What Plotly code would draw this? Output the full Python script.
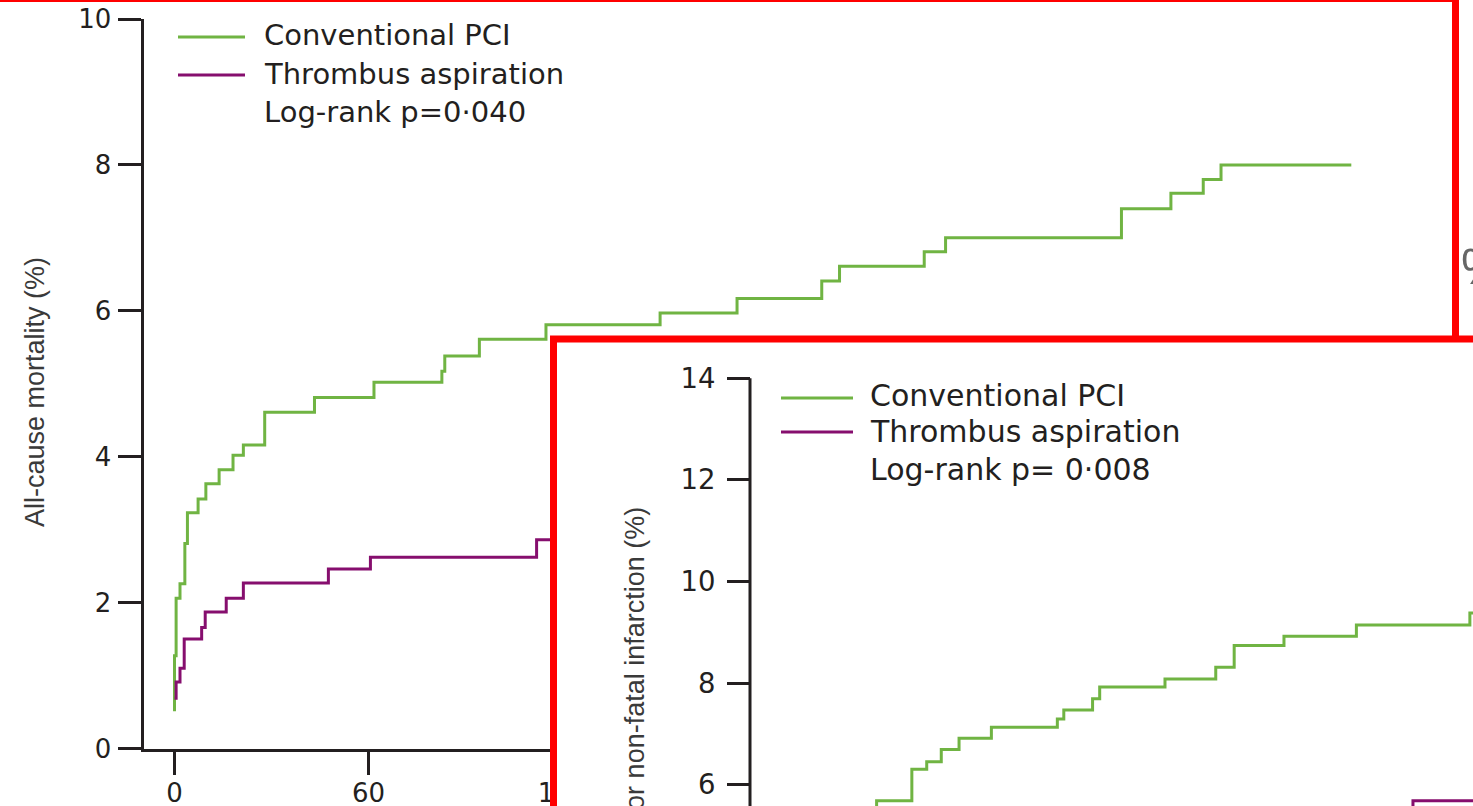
import plotly.graph_objects as go

FIG_W, FIG_H = 1473, 806

GREEN = "#70b443"
PURPLE = "#860e6e"
INK = "#231f20"
RED = "#ff0000"

# ---- Panel A: all-cause mortality (%) against days since randomisation ----
mort_days_conv = [0, 0, 0.5, 1.7, 3.2, 4.0, 7.3, 9.7, 13.8, 18.1, 21.3, 27.9, 43.3,
                  61.7, 82.7, 83.6, 94.3, 114.9, 150.2, 174.0, 200.2, 205.7, 231.9,
                  238.5, 292.9, 308.2, 318.2, 323.7, 364]
mort_pct_conv = [0.51, 1.27, 2.06, 2.26, 2.81, 3.23, 3.42, 3.63, 3.82, 4.02, 4.16, 4.61,
                 4.81, 5.02, 5.17, 5.38, 5.61, 5.81, 5.97, 6.17, 6.41, 6.61, 6.81, 7.00,
                 7.40, 7.61, 7.80, 8.00, 8.00]
mort_days_asp = [0, 0.5, 1.7, 3.0, 8.4, 9.5, 16.0, 21.3, 47.6, 60.6, 112.0, 125]
mort_pct_asp = [0.69, 0.91, 1.10, 1.50, 1.66, 1.87, 2.06, 2.27, 2.46, 2.62, 2.86, 2.86]
mort_ticks = [0, 2, 4, 6, 8, 10]
day_ticks = [0, 60, 120, 180, 240, 300, 360]

# ---- Panel B: cardiac death or non-fatal infarction (%) ----
mi_days_conv = [28.8, 28.8, 39.7, 44.3, 48.8, 54.3, 64.3, 84.7, 86.7, 95.6, 97.8, 118.0,
                133.7, 139.4, 154.8, 177.2, 212.3, 220]
mi_pct_conv = [5.47, 5.68, 6.30, 6.45, 6.69, 6.91, 7.13, 7.29, 7.47, 7.69, 7.92, 8.08,
               8.31, 8.74, 8.92, 9.14, 9.38, 9.38]
mi_days_asp = [194.7, 194.7, 220]
mi_pct_asp = [5.47, 5.68, 5.68]
mi_ticks = [6, 8, 10, 12, 14]

legend_labels = ["Conventional PCI", "Thrombus aspiration"]
mort_p_text = "Log-rank p=0·040"
mi_p_text = "Log-rank p= 0·008"
mort_title = "All-cause mortality (%)"
mi_title = "Cardiac death or non-fatal infarction (%)"


def fx(px):
    return px / FIG_W


def fy(py):
    return 1 - py / FIG_H


# pixel geometry of the two panels
A_DAY0, A_PXDAY = 174.5, 3.233
B_DAY0, B_PXDAY = 783.5, 3.233
B_V0, B_PXV = 1089.4, 50.8

fig = go.Figure()

series = [
    (mort_days_conv, mort_pct_conv, GREEN, "x", "y"),
    (mort_days_asp, mort_pct_asp, PURPLE, "x", "y"),
    (mi_days_conv, mi_pct_conv, GREEN, "x2", "y2"),
    (mi_days_asp, mi_pct_asp, PURPLE, "x2", "y2"),
]
for days, pct, col, xa, ya in series:
    fig.add_trace(go.Scatter(x=days, y=pct, mode="lines", xaxis=xa, yaxis=ya,
                             line=dict(color=col, width=3, shape="hv"),
                             showlegend=False, hoverinfo="skip"))

tick_a = dict(family="DejaVu Sans", size=26, color=INK)
tick_b = dict(family="DejaVu Sans", size=27.5, color=INK)

fig.update_layout(
    width=FIG_W, height=FIG_H, autosize=False,
    margin=dict(l=0, r=0, t=0, b=0, pad=0),
    paper_bgcolor="white", plot_bgcolor="white",
    showlegend=False,
    xaxis=dict(domain=[fx(143.5), fx(1452)],
               range=[(143.5 - A_DAY0) / A_PXDAY, (1452 - A_DAY0) / A_PXDAY],
               tickvals=day_ticks, ticks="outside", ticklen=23, tickwidth=3, tickcolor=INK,
               showline=True, linewidth=3, linecolor=INK, showgrid=False, zeroline=False,
               tickfont=tick_a, anchor="y", automargin=False, ticklabelstandoff=-4),
    yaxis=dict(domain=[fy(748.5), fy(19)], range=[0, 10],
               tickvals=mort_ticks, ticks="outside", ticklen=23, tickwidth=3, tickcolor=INK,
               showline=True, linewidth=3, linecolor=INK, showgrid=False, zeroline=False,
               tickfont=tick_a, anchor="x", automargin=False, ticklabelstandoff=1),
    xaxis2=dict(domain=[fx(557), 1],
                range=[(557 - B_DAY0) / B_PXDAY, (FIG_W - B_DAY0) / B_PXDAY],
                showline=False, ticks="", showticklabels=False, showgrid=False,
                zeroline=False, anchor="y2", automargin=False),
    yaxis2=dict(domain=[0, fy(343)],
                range=[(B_V0 - FIG_H) / B_PXV, (B_V0 - 343) / B_PXV],
                tickvals=mi_ticks, ticks="outside", ticklen=23, tickwidth=3, tickcolor=INK,
                showline=False, showgrid=False, zeroline=False, tickfont=tick_b,
                anchor="free", position=fx(750), automargin=False, ticklabelstandoff=6),
)

shapes = []
annotations = []

# panel B axis line, running from the top tick downwards
shapes.append(dict(type="line", xref="paper", yref="y2", x0=fx(750), x1=fx(750),
                   y0=14, y1=4, line=dict(color=INK, width=3), layer="above"))

# legend keys and text for both panels
legend_specs = [
    # (line x0, line x1, text x, line ys, text ys, p-value y, font size, p text)
    (178, 245, 262, [37, 75], [35, 74], 112, 29, mort_p_text),
    (781, 853, 868, [398, 432], [395, 432], 469, 30, mi_p_text),
]
for lx0, lx1, tx, lys, tys, pyy, fs, ptxt in legend_specs:
    for label, col, ly, ty in zip(legend_labels, [GREEN, PURPLE], lys, tys):
        shapes.append(dict(type="line", xref="paper", yref="paper", x0=fx(lx0), x1=fx(lx1),
                           y0=fy(ly), y1=fy(ly), line=dict(color=col, width=3), layer="above"))
        annotations.append(dict(text=label, xref="paper", yref="paper", x=fx(tx), y=fy(ty),
                                xanchor="left", yanchor="middle", showarrow=False,
                                font=dict(family="DejaVu Sans", size=fs, color=INK)))
    annotations.append(dict(text=ptxt, xref="paper", yref="paper", x=fx(tx), y=fy(pyy),
                            xanchor="left", yanchor="middle", showarrow=False,
                            font=dict(family="DejaVu Sans", size=fs, color=INK)))

# vertical axis titles
annotations.append(dict(text=mort_title, xref="paper", yref="paper", x=fx(35), y=fy(392),
                        xanchor="center", yanchor="middle", textangle=-90, showarrow=False,
                        font=dict(family="Liberation Sans", size=27, color="#3a3a3a")))
annotations.append(dict(text=mi_title, xref="paper", yref="paper", x=fx(634), y=fy(505),
                        xanchor="center", yanchor="top", textangle=-90, showarrow=False,
                        font=dict(family="Liberation Sans", size=27, color="#3a3a3a")))

# stray glyph at the right edge
annotations.append(dict(text="%", xref="paper", yref="paper", x=fx(1459), y=fy(267),
                        xanchor="left", yanchor="middle", showarrow=False,
                        font=dict(family="Liberation Sans", size=50, color="#666666")))

# red frames around the two panels
shapes.append(dict(type="path", xref="paper", yref="paper",
                   path=f"M {fx(-20)},{fy(-1.5)} L {fx(1455.5)},{fy(-1.5)} L {fx(1455.5)},{fy(339)}",
                   line=dict(color=RED, width=7), layer="above"))
shapes.append(dict(type="path", xref="paper", yref="paper",
                   path=f"M {fx(553.5)},{fy(900)} L {fx(553.5)},{fy(339)} L {fx(1490)},{fy(339)}",
                   line=dict(color=RED, width=7), layer="above"))

fig.update_layout(shapes=shapes, annotations=annotations)

fig.write_html("out.html")
